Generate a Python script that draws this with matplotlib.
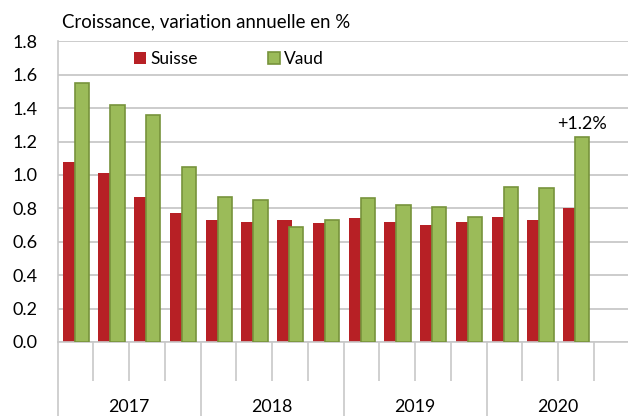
import matplotlib
matplotlib.use("Agg")
import matplotlib.pyplot as plt
import numpy as np
from matplotlib.transforms import blended_transform_factory

# Données (croissance, variation annuelle en %)
trimestres = ["2017T1", "2017T2", "2017T3", "2017T4",
              "2018T1", "2018T2", "2018T3", "2018T4",
              "2019T1", "2019T2", "2019T3", "2019T4",
              "2020T1", "2020T2", "2020T3"]
suisse = [1.08, 1.01, 0.87, 0.77, 0.73, 0.72, 0.73, 0.71, 0.74, 0.72, 0.70, 0.72, 0.75, 0.73, 0.80]
vaud = [1.55, 1.42, 1.36, 1.05, 0.87, 0.85, 0.69, 0.73, 0.86, 0.82, 0.81, 0.75, 0.93, 0.92, 1.23]
annees = ["2017", "2018", "2019", "2020"]
n_slots = 16  # 4 trimestres par année, 2020T4 vide

plt.rcParams['font.family'] = ['Lato', 'DejaVu Sans']

fig = plt.figure(figsize=(6.28, 4.16), dpi=100)
ax = fig.add_axes([57.7 / 628, 74 / 416, 572 / 628, 300.6 / 416])

x = np.arange(len(trimestres))
ax.bar(x + 0.34, suisse, width=0.40, color="#B72025", label="Suisse", zorder=2)
ax.bar(x + 0.675, vaud, width=0.40, color="#9BBB59", edgecolor="#77933C",
       linewidth=1.2, label="Vaud", zorder=3)

ax.set_xlim(0, n_slots)
ax.set_ylim(0, 1.8)
ax.set_yticks(np.arange(0, 1.81, 0.2))
ax.set_yticklabels([f"{v:.1f}" for v in np.arange(0, 1.81, 0.2)], fontsize=13)
ax.tick_params(axis="y", length=0, pad=14.5)
ax.grid(axis="y", color="#C8C8C8", linewidth=1.3, zorder=0)
ax.set_axisbelow(True)

# traits de l'axe des x : longs entre années, courts entre trimestres
ax.set_xticks(np.arange(0, n_slots + 1, 4))
ax.set_xticks(np.arange(1, n_slots, 1), minor=True)
ax.set_xticklabels([])
ax.tick_params(axis="x", which="major", length=53.5, width=1.2, color="#C8C8C8", direction="out")
ax.tick_params(axis="x", which="minor", length=28, width=1.2, color="#C8C8C8", direction="out")

for s in ["top", "right"]:
    ax.spines[s].set_visible(False)
ax.spines["left"].set_color("#C8C8C8")
ax.spines["bottom"].set_color("#C8C8C8")
ax.spines["left"].set_linewidth(1.2)
ax.spines["bottom"].set_linewidth(1.2)

trans = blended_transform_factory(ax.transData, fig.transFigure)
for i, a in enumerate(annees):
    ax.text(i * 4 + 2, 1 - 407 / 416, a, transform=trans, ha="center", va="center", fontsize=12.8)

ax.text(14.675, vaud[14] + 0.03, "+1.2%", ha="center", va="bottom", fontsize=13)

fig.text(62 / 628, 1 - 22 / 416, "Croissance, variation annuelle en %", fontsize=13.4, va="center")

ax.legend(loc="center", bbox_to_anchor=(229 / 628, 1 - 59 / 416), bbox_transform=fig.transFigure,
          ncol=2, frameon=False, fontsize=12.5, handlelength=0.7, handleheight=0.7,
          handletextpad=0.25, columnspacing=4.0)

fig.savefig("out.png", dpi=100)
